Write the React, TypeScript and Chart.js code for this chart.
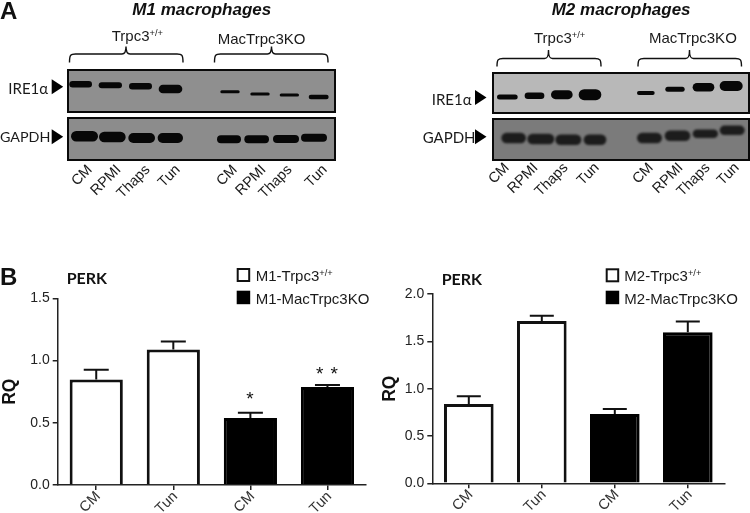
import React, { useEffect, useRef } from "react";
import { Chart, registerables } from "chart.js";

Chart.register(...registerables);

const ARIAL = '"Liberation Sans", Arial, sans-serif';
const LATO = 'Lato, "Open Sans", sans-serif';

// ---- bar chart data (RQ)
const categories = ["CM", "Tun", "CM", "Tun"];
const m1Wild = [0.848, 1.088, null, null];
const m1Ko = [null, null, 0.539, 0.787];
const m1ErrorTop = [0.925, 1.152, 0.581, 0.803];
const m1Sig = ["", "", "*", "**"];
const m2Wild = [0.838, 1.715, null, null];
const m2Ko = [null, null, 0.732, 1.595];
const m2ErrorTop = [0.92, 1.77, 0.785, 1.71];
const m2Sig = ["", "", "", ""];
const m1Ticks = [0, 0.5, 1, 1.5];
const m2Ticks = [0, 0.5, 1, 1.5, 2];

// ---- western blot bands: lane start / end, migration, thickness
const m1IreStart = [7, 95, 186, 275, 460, 550, 638, 725];
const m1IreEnd = [75, 165, 255, 346, 518, 608, 696, 785];
const m1IreY = [46, 49, 52, 60, 68, 75, 78, 84];
const m1IreH = [6.5, 6, 6.5, 8.5, 3, 3, 3.2, 4.5];
const m1GapStart = [12, 96, 184, 272, 450, 532, 618, 702];
const m1GapEnd = [93, 176, 264, 348, 522, 606, 696, 780];
const m1GapY = [58, 60, 63, 63, 67, 67, 66, 62];
const m1GapH = [10.5, 10.5, 10, 10, 8, 8, 8, 8];
const m2IreStart = [15, 98, 177, 260, 435, 520, 602, 683];
const m2IreEnd = [77, 157, 242, 328, 488, 578, 667, 752];
const m2IreY = [75, 71, 68, 68, 63, 52, 46, 42];
const m2IreH = [5, 6.5, 9, 11, 3.8, 5, 8.5, 10];
const m2GapStart = [28, 106, 190, 275, 435, 518, 602, 683];
const m2GapEnd = [102, 187, 268, 343, 510, 595, 678, 758];
const m2GapY = [60, 63, 65, 65, 60, 53, 47, 37];
const m2GapH = [10.5, 10.5, 10.5, 10.5, 10.5, 10.5, 8.5, 9.5];

const laneNames = ["CM", "RPMI", "Thaps", "Tun"];

const errorPlugin = {
  id: "errorBars",
  afterDatasetsDraw(chart: any, _a: any, opts: any) {
    const { ctx, scales } = chart;
    const y = scales.y;
    ctx.save();
    ctx.strokeStyle = "#111";
    ctx.lineWidth = 2;
    opts.top.forEach((top: number, i: number) => {
      const ds = opts.series[i] === 0 ? 0 : 1;
      const el = chart.getDatasetMeta(ds).data[i];
      const yTop = y.getPixelForValue(top);
      const yBase = y.getPixelForValue(chart.data.datasets[ds].data[i]);
      ctx.beginPath();
      ctx.moveTo(el.x, yBase);
      ctx.lineTo(el.x, yTop);
      ctx.moveTo(el.x - opts.cap, yTop);
      ctx.lineTo(el.x + opts.cap, yTop);
      ctx.stroke();
      if (opts.sig[i]) {
        ctx.fillStyle = "#111";
        ctx.font = `19px ${ARIAL}`;
        ctx.textAlign = "center";
        ctx.textBaseline = "middle";
        (ctx as any).letterSpacing = "7px";
        ctx.fillText(opts.sig[i], el.x + 3, yTop - opts.sigGap[i]);
        (ctx as any).letterSpacing = "0px";
      }
    });
    ctx.restore();
  },
};

function BarPanel(props: any) {
  const ref = useRef<HTMLCanvasElement>(null);
  useEffect(() => {
    const chart = new Chart(ref.current as any, {
      type: "bar",
      data: {
        labels: categories,
        datasets: [
          {
            label: props.names[0],
            data: props.wild,
            backgroundColor: "#ffffff",
            borderColor: "#111",
            borderWidth: 3,
            categoryPercentage: 1,
            barPercentage: props.barPct,
          },
          {
            label: props.names[1],
            data: props.ko,
            backgroundColor: "#000000",
            borderColor: "#000",
            borderWidth: 3,
            categoryPercentage: 1,
            barPercentage: props.barPct,
          },
        ],
      },
      options: {
        responsive: false,
        animation: false,
        grouped: false,
        layout: { padding: { left: 0, top: props.padTop, right: props.padRight, bottom: 0 } },
        plugins: {
          legend: { display: false },
          tooltip: { enabled: false },
          errorBars: {
            top: props.errorTop,
            series: [0, 0, 1, 1],
            cap: props.cap,
            sig: props.sig,
            sigGap: props.sigGap,
          },
        },
        scales: {
          x: {
            type: "category",
            afterFit: (s: any) => (s.height = props.xHeight),
            grid: { drawOnChartArea: false, offset: false, tickLength: 5, color: "#222", lineWidth: 1.5 },
            border: { color: "#222", width: 1.5 },
            ticks: {
              minRotation: 45,
              maxRotation: 45,
              color: "#333",
              font: { size: 14.5, family: ARIAL },
              padding: -2,
              labelOffset: 2,
            },
          },
          y: {
            min: 0,
            max: props.max,
            afterFit: (s: any) => (s.width = props.yWidth),
            afterBuildTicks: (s: any) => {
              s.ticks = props.ticks.map((v: number) => ({ value: v }));
            },
            grid: { drawOnChartArea: false, tickLength: 5, color: "#222", lineWidth: 1.5 },
            border: { color: "#222", width: 1.5 },
            title: {
              display: true,
              text: "RQ",
              color: "#111",
              font: { size: 17.5, weight: "bold", family: ARIAL },
              padding: { top: props.titlePad, bottom: 0 },
            },
            ticks: {
              color: "#222",
              font: { size: 14, family: ARIAL },
              padding: 3,
              callback: (v: any) => Number(v).toFixed(1),
            },
          },
        },
      } as any,
      plugins: [errorPlugin as any],
    });
    return () => chart.destroy();
  }, []);
  return (
    <canvas
      ref={ref}
      width={props.w}
      height={props.h}
      style={{ position: "absolute", left: props.x, top: props.y, width: props.w, height: props.h }}
    />
  );
}

const gelPlugin = {
  id: "gel",
  beforeDatasetsDraw(chart: any, _a: any, opts: any) {
    const { ctx, width, height } = chart;
    ctx.save();
    ctx.fillStyle = opts.bg;
    ctx.fillRect(0, 0, width, height);
    ctx.restore();
    ctx.save();
    ctx.filter = `blur(${opts.blur}px)`;
  },
  afterDatasetsDraw(chart: any, _a: any, opts: any) {
    const { ctx, width, height } = chart;
    ctx.restore();
    ctx.save();
    ctx.strokeStyle = "#0a0a0a";
    ctx.lineWidth = 2;
    ctx.strokeRect(1, 1, width - 2, height - 2);
    ctx.restore();
  },
};

function BlotPanel(props: any) {
  const ref = useRef<HTMLCanvasElement>(null);
  useEffect(() => {
    const datasets = props.start.map((s: number, i: number) => ({
      label: `band ${i + 1}`,
      data: [
        { x: s + props.h2[i] * 1.5, y: props.mid[i] },
        { x: props.end[i] - props.h2[i] * 1.5, y: props.mid[i] },
      ],
      borderColor: props.band,
      borderWidth: props.h2[i],
      borderCapStyle: "round",
      pointRadius: 0,
      tension: 0,
      clip: false,
    }));
    const chart = new Chart(ref.current as any, {
      type: "line",
      data: { datasets },
      options: {
        responsive: false,
        animation: false,
        layout: { padding: 0 },
        plugins: {
          legend: { display: false },
          tooltip: { enabled: false },
          gel: { bg: props.bg, blur: props.blur },
        },
        scales: {
          x: { type: "linear", display: false, min: 0, max: props.w * 3 },
          y: { type: "linear", display: false, min: 0, max: props.h * 3, reverse: true },
        },
      } as any,
      plugins: [gelPlugin as any],
    });
    return () => chart.destroy();
  }, []);
  return (
    <canvas
      ref={ref}
      width={props.w}
      height={props.h}
      style={{ position: "absolute", left: props.x, top: props.y, width: props.w, height: props.h }}
    />
  );
}

function Label(props: any) {
  return (
    <div
      style={{
        position: "absolute",
        left: props.x,
        top: props.y,
        transform: "translateY(-50%)",
        whiteSpace: "nowrap",
        lineHeight: 1,
        color: props.color || "#1a1a1a",
        fontFamily: props.font || ARIAL,
        fontSize: props.size || 15,
        fontWeight: props.bold ? 700 : 400,
        fontStyle: props.italic ? "italic" : "normal",
      }}
    >
      {props.children}
    </div>
  );
}

function Lanes(props: any) {
  return props.ends.map((x: number, i: number) => (
    <div
      key={i}
      style={{
        position: "absolute",
        right: 750 - x,
        top: props.y,
        transformOrigin: "100% 50%",
        transform: "translateY(-50%) rotate(-45deg)",
        whiteSpace: "nowrap",
        lineHeight: 1,
        fontFamily: ARIAL,
        fontSize: 14.5,
        color: "#1a1a1a",
      }}
    >
      {laneNames[i % 4]}
    </div>
  ));
}

function Sup() {
  return <sup style={{ fontSize: "0.62em", lineHeight: 0, verticalAlign: "0.45em" }}>+/+</sup>;
}

function brace(x1: number, x2: number, tip: number, tipY: number, top: number, end: number) {
  return `M${x1} ${end} C${x1} ${top + 1} ${x1 + 1} ${top} ${x1 + 6} ${top} L${tip - 4} ${top} C${tip - 1} ${top} ${tip} ${top - 2} ${tip} ${tipY} C${tip} ${top - 2} ${tip + 1} ${top} ${tip + 4} ${top} L${x2 - 6} ${top} C${x2 - 1} ${top} ${x2} ${top + 1} ${x2} ${end}`;
}

function Overlay() {
  const tri = (x: number, y: number) => `${x},${y - 7.5} ${x + 11.5},${y} ${x},${y + 7.5}`;
  return (
    <svg width={750} height={513} style={{ position: "absolute", left: 0, top: 0, pointerEvents: "none" }}>
      <g fill="none" stroke="#111" strokeWidth={1.4}>
        <path d={brace(69.5, 183, 126, 46.5, 54, 62.5)} />
        <path d={brace(214.5, 328, 271.5, 46.5, 54, 62.5)} />
        <path d={brace(497, 601, 548.5, 50, 58.5, 66.5)} />
        <path d={brace(638, 741.5, 689.5, 50, 58.5, 66.5)} />
      </g>
      <g fill="#000">
        <polygon points={tri(51.7, 86.7)} />
        <polygon points={tri(51.7, 136.7)} />
        <polygon points={tri(475, 97.5)} />
        <polygon points={tri(475, 136.7)} />
      </g>
      <rect x={237.7} y={269} width={11.5} height={12} fill="#fff" stroke="#111" strokeWidth={2} />
      <rect x={236.7} y={290.7} width={13.5} height={13.5} fill="#000" />
      <rect x={606.7} y={269.3} width={11.5} height={12} fill="#fff" stroke="#111" strokeWidth={2} />
      <rect x={605.7} y={290.7} width={13.5} height={13.5} fill="#000" />
    </svg>
  );
}

export default function App() {
  useEffect(() => {
    document.body.style.margin = "0";
    document.body.style.background = "#fff";
  }, []);
  return (
    <div style={{ position: "absolute", left: 0, top: 0, width: 750, height: 513, overflow: "hidden", background: "#fff" }}>
      <BlotPanel x={67} y={69} w={269} h={44} start={m1IreStart} end={m1IreEnd} mid={m1IreY} h2={m1IreH} bg="#8f8f8f" band="#070707" blur={0.6} />
      <BlotPanel x={67} y={117} w={269} h={44} start={m1GapStart} end={m1GapEnd} mid={m1GapY} h2={m1GapH} bg="#8c8c8c" band="#070707" blur={0.6} />
      <BlotPanel x={492} y={72} w={258} h={42} start={m2IreStart} end={m2IreEnd} mid={m2IreY} h2={m2IreH} bg="#b8b8b8" band="#070707" blur={0.7} />
      <BlotPanel x={492} y={118} w={258} h={43} start={m2GapStart} end={m2GapEnd} mid={m2GapY} h2={m2GapH} bg="#7b7b7b" band="#1c1c1c" blur={1} />

      <BarPanel x={0} y={280} w={375} h={233} names={["M1-Trpc3+/+", "M1-MacTrpc3KO"]} wild={m1Wild} ko={m1Ko} errorTop={m1ErrorTop} sig={m1Sig} sigGap={[0, 0, 13, 10]} ticks={m1Ticks} max={1.5} padTop={18.3} padRight={9} yWidth={57.7} xHeight={28} barPct={0.69} cap={12.5} titlePad={0} />
      <BarPanel x={375} y={280} w={375} h={233} names={["M2-Trpc3+/+", "M2-MacTrpc3KO"]} wild={m2Wild} ko={m2Ko} errorTop={m2ErrorTop} sig={m2Sig} sigGap={[0, 0, 0, 0]} ticks={m2Ticks} max={2} padTop={14} padRight={25.7} yWidth={57.3} xHeight={29.7} barPct={0.68} cap={12} titlePad={5} />

      <Overlay />

      <Label x={0} y={11} size={24} bold color="#111">A</Label>
      <Label x={0} y={277} size={24} bold color="#111">B</Label>
      <Label x={132.3} y={9} size={17} bold italic color="#111">M1 macrophages</Label>
      <Label x={551.7} y={9} size={17} bold italic color="#111">M2 macrophages</Label>

      <Label x={111.7} y={35}>Trpc3<Sup /></Label>
      <Label x={217.7} y={38}>MacTrpc3KO</Label>
      <Label x={534} y={37}>Trpc3<Sup /></Label>
      <Label x={649} y={37}>MacTrpc3KO</Label>

      <Label x={8.3} y={88} font={LATO} size={15}>IRE1α</Label>
      <Label x={0} y={137} font={LATO} size={14.3}>GAPDH</Label>
      <Label x={431.7} y={99} font={LATO} size={15}>IRE1α</Label>
      <Label x={422.7} y={137} font={LATO} size={15}>GAPDH</Label>

      <Lanes ends={[90, 118, 147, 177, 235, 263, 289, 324]} y={167} />
      <Lanes ends={[507, 535, 565, 596, 651, 680, 707, 736]} y={165} />

      <Label x={66.7} y={277.5} font={LATO} size={16} bold color="#111">PERK</Label>
      <Label x={441.7} y={279} font={LATO} size={16} bold color="#111">PERK</Label>
      <Label x={255.7} y={275}>M1-Trpc3<Sup /></Label>
      <Label x={255.7} y={298}>M1-MacTrpc3KO</Label>
      <Label x={624.3} y={275}>M2-Trpc3<Sup /></Label>
      <Label x={624.3} y={298}>M2-MacTrpc3KO</Label>
    </div>
  );
}
